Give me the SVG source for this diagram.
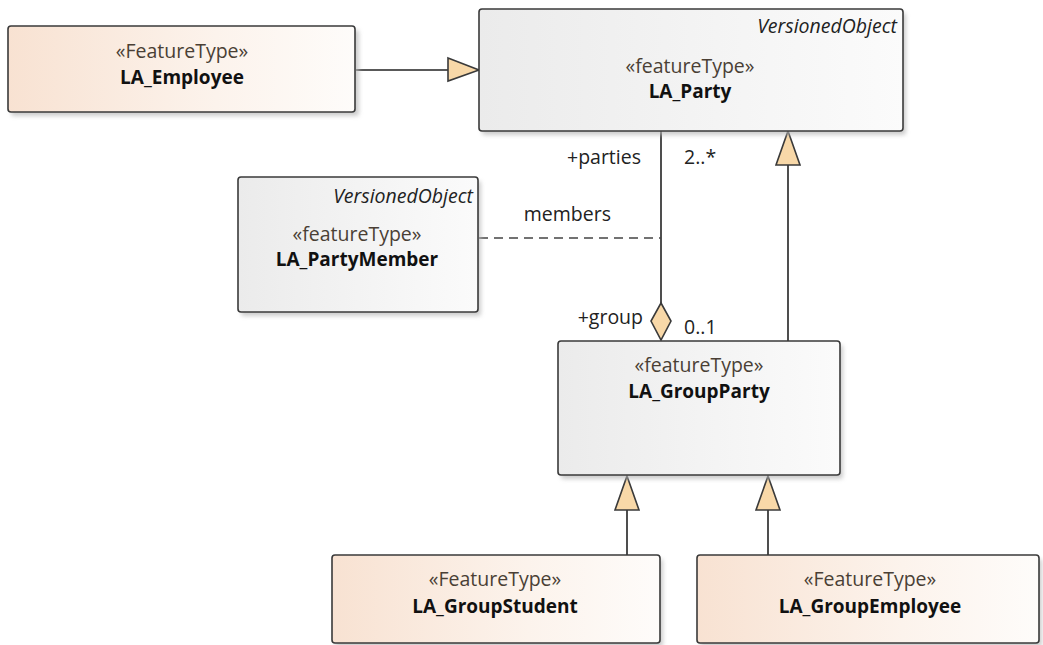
<svg xmlns="http://www.w3.org/2000/svg" width="1043" height="645" viewBox="0 0 1043 645">
<defs>
<linearGradient id="gFT" x1="0" y1="0" x2="1" y2="0">
<stop offset="0" stop-color="#f8e2d2"/>
<stop offset="0.6" stop-color="#fcf3ec"/>
<stop offset="1" stop-color="#fefcfa"/>
</linearGradient>
<linearGradient id="gGray" x1="0" y1="0" x2="1" y2="0">
<stop offset="0" stop-color="#ebebeb"/>
<stop offset="1" stop-color="#fbfbfb"/>
</linearGradient>
<filter id="sh" x="-5%" y="-5%" width="115%" height="120%">
<feGaussianBlur stdDeviation="2"/>
</filter>
</defs>
<style>
.box{stroke:#3a3a3a;stroke-width:1.6}
.ft{fill:url(#gFT)}
.gr{fill:url(#gGray)}
.shadow{fill:#b8b8b8;filter:url(#sh);opacity:0.7}
.st{font-family:"Open Sans","Noto Sans",sans-serif;font-size:19.5px;fill:#4a3f35;text-anchor:middle}
.nm{font-family:"Open Sans","Noto Sans",sans-serif;font-size:19px;font-weight:bold;fill:#111;text-anchor:middle}
.vo{font-family:"Open Sans","Noto Sans",sans-serif;font-size:19.5px;font-style:italic;fill:#222;text-anchor:end}
.lbl{font-family:"Open Sans","Noto Sans",sans-serif;font-size:19.5px;fill:#222}
.ln{stroke:#222;stroke-width:1.6;fill:none}
.dash{stroke:#444;stroke-width:1.6;fill:none;stroke-dasharray:9,6}
.tri{fill:#f8d8a8;stroke:#3a3a3a;stroke-width:1.6}
</style>

<g id="connectors">
<line class="ln" x1="356" y1="70" x2="448" y2="70"/>
<polygon class="tri" points="448,58 479,70 448,81"/>
<line class="ln" x1="661" y1="131" x2="661" y2="303"/>
<polygon class="tri" points="661,303 671,321 661,340 651,321"/>
<line class="dash" x1="479" y1="238" x2="661" y2="238"/>
<line class="ln" x1="788" y1="341" x2="788" y2="165"/>
<polygon class="tri" points="788,131 800,165 776,165"/>
<line class="ln" x1="627" y1="555" x2="627" y2="510"/>
<polygon class="tri" points="627,476 639,510 615,510"/>
<line class="ln" x1="768" y1="555" x2="768" y2="510"/>
<polygon class="tri" points="768,476 780,510 756,510"/>
<text class="lbl" x="641" y="164" text-anchor="end">+parties</text>
<text class="lbl" x="684" y="164">2..*</text>
<text class="lbl" x="611" y="221" text-anchor="end">members</text>
<text class="lbl" x="643" y="324" text-anchor="end">+group</text>
<text class="lbl" x="684" y="334">0..1</text>
</g>

<g id="LA_Employee">
<rect class="shadow" x="11" y="30" width="348" height="86" rx="3"/>
<rect class="box ft" x="8" y="26" width="347" height="86" rx="3"/>
<text class="st" x="182" y="58">«FeatureType»</text>
<text class="nm" x="182" y="84">LA_Employee</text>
</g>

<g id="LA_Party">
<rect class="shadow" x="482" y="13" width="424" height="122" rx="3"/>
<rect class="box gr" x="479" y="9" width="424" height="122" rx="3"/>
<text class="vo" x="897" y="33">VersionedObject</text>
<text class="st" x="690" y="73">«featureType»</text>
<text class="nm" x="690" y="98">LA_Party</text>
</g>

<g id="LA_PartyMember">
<rect class="shadow" x="241" y="181" width="240" height="135" rx="3"/>
<rect class="box gr" x="238" y="177" width="240" height="135" rx="3"/>
<text class="vo" x="473" y="203">VersionedObject</text>
<text class="st" x="357" y="241">«featureType»</text>
<text class="nm" x="357" y="266">LA_PartyMember</text>
</g>

<g id="LA_GroupParty">
<rect class="shadow" x="561" y="345" width="282" height="134" rx="3"/>
<rect class="box gr" x="558" y="341" width="282" height="134" rx="3"/>
<text class="st" x="699" y="372">«featureType»</text>
<text class="nm" x="699" y="398">LA_GroupParty</text>
</g>

<g id="LA_GroupStudent">
<rect class="shadow" x="335" y="559" width="328" height="88" rx="3"/>
<rect class="box ft" x="332" y="555" width="328" height="88" rx="3"/>
<text class="st" x="495" y="586">«FeatureType»</text>
<text class="nm" x="495" y="613">LA_GroupStudent</text>
</g>

<g id="LA_GroupEmployee">
<rect class="shadow" x="700" y="559" width="342" height="88" rx="3"/>
<rect class="box ft" x="697" y="555" width="342" height="88" rx="3"/>
<text class="st" x="870" y="586">«FeatureType»</text>
<text class="nm" x="870" y="613">LA_GroupEmployee</text>
</g>
</svg>
